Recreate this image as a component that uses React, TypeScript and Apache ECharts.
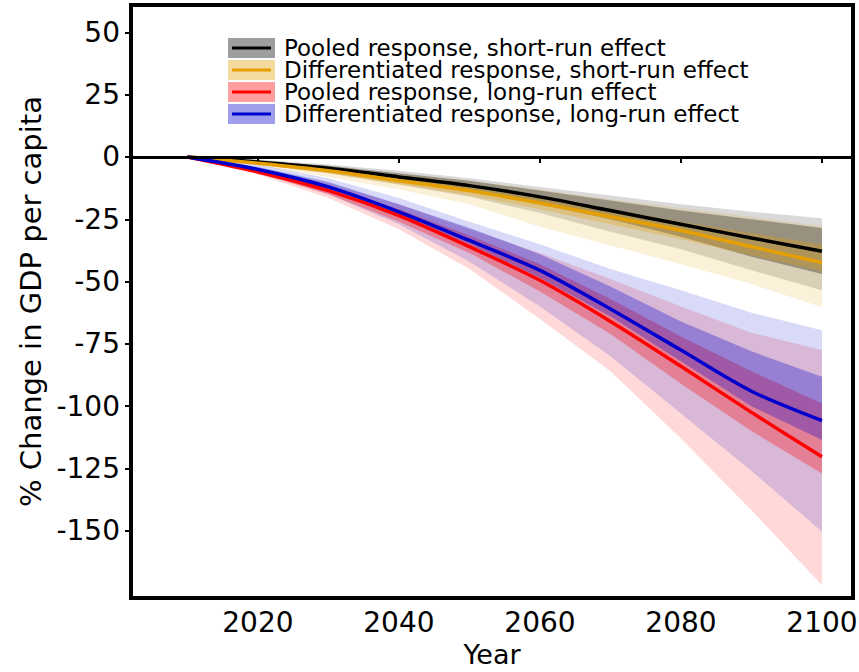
import React, { useEffect, useRef } from "react";
import * as echarts from "echarts";

// Projection years (decadal nodes)
const years = [2010, 2020, 2030, 2040, 2050, 2060, 2070, 2080, 2090, 2100];

// Central estimates, % change in GDP per capita
const pooledShort = [0, -2, -4.5, -8, -11.5, -16, -21.5, -27, -32.5, -37.8];
const diffShort = [0, -2.5, -5.5, -9.5, -13.5, -18.5, -24, -29.5, -36, -42.4];
const pooledLong = [0, -6, -13.5, -23.5, -36, -49.5, -66, -84, -102.5, -120.3];
const diffLong = [0, -5, -12, -22, -33.5, -45.5, -61, -77.5, -94, -105.8];

// Uncertainty ranges: outer (wide) and inner (narrow) bounds
const pooledShortOuterHi = [0, -1, -3, -5.5, -8.5, -12, -15.5, -19, -22, -24.6];
const pooledShortOuterLo = [0, -3, -6.5, -11, -16, -22.5, -30, -37, -45.5, -53.5];
const pooledShortInnerHi = [0, -1.5, -3.5, -6.5, -9.5, -13.5, -17.5, -21.5, -25, -28.5];
const pooledShortInnerLo = [0, -2.5, -5.5, -9.5, -13.5, -19, -25, -32, -40, -47];

const diffShortOuterHi = [0, -1.5, -3.5, -6.5, -9.5, -13, -17, -20.5, -24, -27.7];
const diffShortOuterLo = [0, -3.5, -8, -13, -19, -28, -35.5, -43, -51, -60.3];
const diffShortInnerHi = [0, -2, -4.5, -8, -11.5, -16, -21, -26, -30.5, -35];
const diffShortInnerLo = [0, -3, -6.5, -11, -15.5, -21, -27, -33, -39.5, -46];

const pooledLongOuterHi = [0, -4.5, -10.5, -19, -29, -38.5, -49, -60, -70.5, -77.5];
const pooledLongOuterLo = [0, -7, -16.5, -29, -45, -65, -86, -113, -141.8, -171.9];
const pooledLongInnerHi = [0, -5, -12, -21, -31.5, -43, -57, -72, -86, -98.9];
const pooledLongInnerLo = [0, -6.5, -15, -26, -38.5, -54, -71, -91, -110, -127];

const diffLongOuterHi = [0, -3, -8.5, -16.5, -26, -35, -45, -53.5, -62.5, -69.5];
const diffLongOuterLo = [0, -6, -15, -27, -42, -60, -80, -103, -126, -150.4];
const diffLongInnerHi = [0, -4, -10, -19, -28.5, -39, -52, -66, -78, -88.2];
const diffLongInnerLo = [0, -5.5, -13, -23.5, -35, -48.5, -64, -82, -100, -113.6];

const xTicks = [2020, 2040, 2060, 2080, 2100];
const yTicks = [-150, -125, -100, -75, -50, -25, 0, 25, 50];

const legendLabels = [
  "Pooled response, short-run effect",
  "Differentiated response, short-run effect",
  "Pooled response, long-run effect",
  "Differentiated response, long-run effect",
];

const BLACK = "#000000";
const ORANGE = "#E69F00";
const RED = "#FF0000";
const BLUE = "#0000CD";
const FONT = "DejaVu Sans";

function rgba(hex: string, a: number) {
  const n = parseInt(hex.slice(1), 16);
  return `rgba(${(n >> 16) & 255},${(n >> 8) & 255},${n & 255},${a})`;
}

// A shaded ribbon between lower and upper bounds, drawn as one polygon
// whose vertices are mapped through the chart's axes.
function band(id: string, lo: number[], hi: number[], color: string, alpha: number) {
  return {
    type: "custom",
    name: id,
    silent: true,
    clip: true,
    data: years.map((y, i) => [y, lo[i], hi[i]]),
    encode: { x: 0, y: [1, 2] },
    renderItem: (params: any, api: any) => {
      if (params.dataIndex !== 0) return null;
      const n = years.length;
      const top: number[][] = [];
      const bottom: number[][] = [];
      for (let i = 0; i < n; i++) {
        const x = api.value(0, i);
        top.push(api.coord([x, api.value(2, i)]));
        bottom.push(api.coord([x, api.value(1, i)]));
      }
      return {
        type: "polygon",
        shape: { points: top.concat(bottom.reverse()) },
        style: { fill: rgba(color, alpha), stroke: "none" },
      };
    },
    z: 2,
  };
}

function centralLine(name: string, vals: number[], color: string) {
  return {
    type: "line",
    name,
    data: years.map((y, i) => [y, vals[i]]),
    symbol: "none",
    showSymbol: false,
    smooth: 0.3,
    silent: true,
    lineStyle: { color, width: 3.5 },
    z: 5,
  };
}

export default function App() {
  const ref = useRef<HTMLDivElement>(null);

  useEffect(() => {
    if (!ref.current) return;
    const chart = echarts.init(ref.current, undefined, { renderer: "svg" });

    const outerA = 0.15;
    const innerA = 0.3;

    const series: any[] = [
      band("ps-outer", pooledShortOuterLo, pooledShortOuterHi, BLACK, outerA),
      band("ds-outer", diffShortOuterLo, diffShortOuterHi, ORANGE, outerA),
      band("pl-outer", pooledLongOuterLo, pooledLongOuterHi, RED, outerA),
      band("dl-outer", diffLongOuterLo, diffLongOuterHi, BLUE, outerA),
      band("ps-inner", pooledShortInnerLo, pooledShortInnerHi, BLACK, innerA),
      band("ds-inner", diffShortInnerLo, diffShortInnerHi, ORANGE, innerA),
      band("pl-inner", pooledLongInnerLo, pooledLongInnerHi, RED, innerA),
      band("dl-inner", diffLongInnerLo, diffLongInnerHi, BLUE, innerA),
      centralLine(legendLabels[0], pooledShort, BLACK),
      centralLine(legendLabels[1], diffShort, ORANGE),
      centralLine(legendLabels[2], pooledLong, RED),
      {
        ...centralLine(legendLabels[3], diffLong, BLUE),
        markLine: {
          silent: true,
          symbol: "none",
          label: { show: false },
          lineStyle: { color: "#000", width: 3, type: "solid" },
          data: [{ yAxis: 0 }],
          z: 6,
        },
      },
    ];

    // Legend keys: translucent swatch with the line drawn through it
    const keyColors = [BLACK, ORANGE, RED, BLUE];
    const legendX = 228;
    const legendY0 = 37;
    const rowH = 22;
    const legendItems: any[] = [];
    keyColors.forEach((c, i) => {
      const y = legendY0 + i * rowH;
      legendItems.push({
        type: "rect",
        shape: { x: legendX, y: y + 1, width: 47, height: rowH - 2 },
        style: { fill: rgba(c, 0.38) },
      });
      legendItems.push({
        type: "line",
        shape: { x1: legendX + 4, y1: y + rowH / 2, x2: legendX + 43, y2: y + rowH / 2 },
        style: { stroke: c, lineWidth: 3 },
      });
      legendItems.push({
        type: "text",
        x: legendX + 56,
        y: y + rowH / 2,
        style: {
          text: legendLabels[i],
          font: `23px '${FONT}'`,
          lineHeight: 21,
          fill: "#000",
          verticalAlign: "middle",
          align: "left",
        },
      });
    });

    chart.setOption({
      animation: false,
      backgroundColor: "#fff",
      grid: {
        left: 131,
        right: 6,
        top: 5,
        bottom: 74,
        show: true,
        borderColor: "#000",
        borderWidth: 4,
        backgroundColor: "transparent",
        outerBoundsMode: "none",
        containLabel: false,
        z: 10,
      },
      xAxis: {
        type: "value",
        min: 2002,
        max: 2104.4,
        name: "Year",
        nameLocation: "middle",
        nameGap: 43,
        nameTextStyle: { fontFamily: FONT, fontSize: 27, color: "#000" },
        axisLine: { show: false },
        axisTick: {
          show: true,
          customValues: xTicks,
          length: 6,
          lineStyle: { color: "#000", width: 2 },
        },
        axisLabel: {
          customValues: xTicks,
          formatter: (v: number) => String(v),
          fontFamily: FONT,
          fontSize: 28,
          color: "#000",
          margin: 10,
        },
        splitLine: { show: false },
      },
      yAxis: {
        type: "value",
        min: -177,
        max: 61,
        name: "% Change in GDP per capita",
        nameLocation: "middle",
        nameGap: 82,
        nameTextStyle: { fontFamily: FONT, fontSize: 29, color: "#000" },
        axisLine: { show: false },
        axisTick: {
          show: true,
          customValues: yTicks,
          length: 6,
          lineStyle: { color: "#000", width: 2 },
        },
        axisLabel: {
          customValues: yTicks,
          formatter: (v: number) => String(v),
          fontFamily: FONT,
          fontSize: 28,
          color: "#000",
          margin: 11,
        },
        splitLine: { show: false },
      },
      series,
      graphic: legendItems,
    });

    return () => chart.dispose();
  }, []);

  return (
    <div
      ref={ref}
      style={{ position: "fixed", left: 0, top: 0, width: 859, height: 672, background: "#fff" }}
    />
  );
}
